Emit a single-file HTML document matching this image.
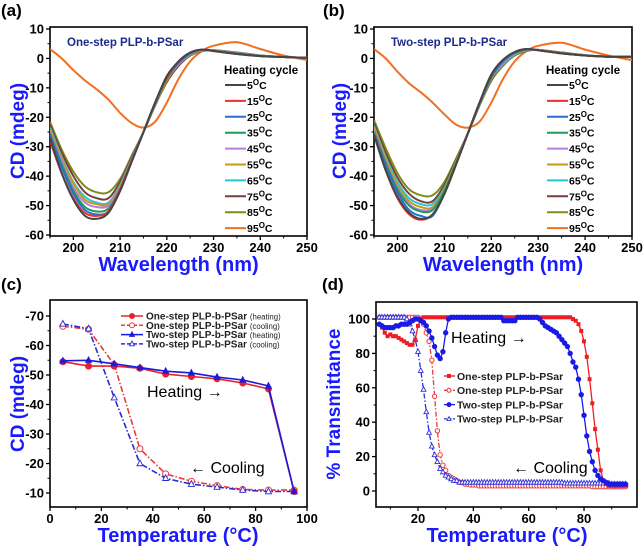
<!DOCTYPE html>
<html><head><meta charset="utf-8">
<style>
html,body{margin:0;padding:0;background:#fff;}
svg{display:block;font-family:"Liberation Sans",sans-serif;}
</style></head>
<body>
<svg id="fig" width="644" height="550" viewBox="0 0 644 550" xmlns="http://www.w3.org/2000/svg"></svg>
<script>
// ---------- Panel (a)/(b) data ----------
const wl = [195,197.5,200,202.5,205,207.5,210,212.5,215,217.5,220,222.5,225,227.5,230,235,240,245,250];
const tempsAB = ["5","15","25","35","45","55","65","75","85","95"];
const colorsAB = ["#454545","#e8322b","#2a6fd0","#1f9c55","#b57ce6","#c99a10","#22c8d8","#7a3e3e","#7d8c1a","#f07020"];
const cdA5  = [-27,-39,-48,-53.5,-54.5,-52.5,-45,-35,-25,-15,-6,-1,2,3,2.5,1.5,0.8,0.5,0.2];
const cdA15 = [-28,-39,-47.5,-52.5,-53.5,-52,-44.5,-34.5,-25,-15,-6.5,-1,2,3,2.6,1.5,0.8,0.5,0.2];
const cdA25 = [-26,-37,-46,-51.5,-53,-52,-45,-35,-25,-15.5,-6.5,-1.5,1.8,3,2.6,1.6,0.8,0.5,0.2];
const cdA35 = [-25.5,-36,-45,-50.5,-52,-51,-44.5,-35,-25,-15.5,-7,-1.5,1.6,2.9,2.7,1.7,0.9,0.5,0.2];
const cdA45 = [-25,-35,-44,-49,-50.5,-50,-44,-34.5,-25,-15.5,-7,-2,1.5,2.8,2.7,1.8,0.9,0.5,0.2];
const cdA55 = [-24,-34,-42.5,-48,-49.5,-49.5,-43.5,-34.5,-25,-16,-7.5,-2,1.3,2.7,2.8,1.8,0.9,0.5,0.2];
const cdA65 = [-23.5,-33.5,-42,-47,-49,-49,-43,-34,-25,-16,-7.5,-2,1.2,2.6,2.8,1.9,1,0.5,0.2];
const cdA75 = [-22.5,-32,-40,-45.5,-47.5,-47.5,-42,-33.5,-25,-16,-8,-2.5,1,2.5,2.8,2,1,0.5,0.2];
const cdA85 = [-21.5,-31,-38.5,-43.5,-45.5,-45.5,-41,-33,-25,-16,-8,-2.5,1,2.5,2.8,2,1,0.5,0.2];
const cdA95 = [3.2,0,-4,-7.5,-10.5,-14,-18.5,-22,-23.5,-21.5,-15,-7,-1,2.5,4.3,5.5,3.2,1,-0.5];
const cdB5  = [-26,-38,-47,-52.5,-54.5,-53,-46,-36,-25.5,-15,-5.5,-0.5,2.2,3.2,2.8,1.7,1,0.6,0.6];
const cdB15 = [-26,-38,-47.5,-53,-54.8,-53,-46,-36,-25.5,-15,-5.5,-0.5,2.2,3.2,2.8,1.7,1,0.6,0.6];
const cdB25 = [-25.5,-36.5,-45.5,-51.5,-53.5,-53.5,-46,-36,-25.5,-15.5,-6,-1,2,3.1,2.8,1.7,1,0.6,0.6];
const cdB35 = [-25,-35.5,-44.5,-50,-52,-51.5,-45,-35.5,-25.5,-15.5,-6.5,-1,1.8,3,2.8,1.8,1,0.6,0.6];
const cdB45 = [-24.5,-35,-44,-49.5,-51.5,-51,-45,-35.5,-25.5,-15.5,-6.5,-1.5,1.6,2.9,2.9,1.8,1,0.6,0.6];
const cdB55 = [-23.5,-34,-43,-48.5,-50.5,-50.5,-44.5,-35,-25.5,-16,-7,-1.5,1.5,2.8,2.9,1.9,1,0.6,0.6];
const cdB65 = [-23,-33.5,-42,-47.5,-49.5,-49.5,-44,-35,-25.5,-16,-7,-2,1.3,2.7,2.9,1.9,1.1,0.6,0.6];
const cdB75 = [-22,-32,-40.5,-46,-48.5,-48.5,-43,-34.5,-25.5,-16,-7.5,-2,1.2,2.6,2.9,2,1.1,0.6,0.6];
const cdB85 = [-21,-30.5,-39,-44.5,-46.5,-46.5,-42,-34,-25.5,-16,-7.5,-2.5,1,2.5,2.9,2,1.1,0.6,0.6];
const cdB95 = [3.2,0,-4.5,-8.5,-11.5,-15,-19,-22.5,-23.5,-21.5,-15,-7,-1,2.5,4.3,5.3,3,1,-0.6];
const seriesA = [cdA5,cdA15,cdA25,cdA35,cdA45,cdA55,cdA65,cdA75,cdA85,cdA95];
const seriesB = [cdB5,cdB15,cdB25,cdB35,cdB45,cdB55,cdB65,cdB75,cdB85,cdB95];

// ---------- Panel (c) data ----------
const tempC = [5,15,25,35,45,55,65,75,85,95];
const oneHeatC = [-54.5,-53,-53,-52.3,-50.3,-49.5,-48.7,-47.3,-45.3,-10.5];
const oneCoolC = [-66.5,-65.5,-53.5,-25,-16.5,-14,-12.5,-11.2,-11,-11];
const twoHeatC = [-54.8,-55,-53.8,-52.5,-51.3,-50.7,-49.3,-48.3,-46.3,-10.5];
const twoCoolC = [-67.3,-65.7,-42.3,-20,-15,-13,-12,-11,-10.5,-10.5];

// ---------- Panel (d) data (T = 6..95 step 1) ----------
const oneHeatD = [97,95,92,90,91,90,90,89,88,87,86,85,85,88,96,100,101,101,101,101,101,101,101,101,101,101,101,101,101,101,101,101,101,101,101,101,101,101,101,101,101,101,101,101,101,101,101,101,101,101,101,101,101,101,101,101,101,101,101,101,101,101,101,101,101,101,101,101,101,101,100,99,97,93,87,78,65,51,36,24,12,6,4,3,3,3,3,3,3,3];
const twoHeatD = [97,96,95,95,95,95,96,96,97,97,97,98,99,100,100,99,98,96,93,89,84,79,77,81,92,100,101,101,101,101,101,101,101,101,101,101,101,101,101,101,101,101,101,101,101,99,99,99,99,99,101,101,101,101,101,101,101,101,100,98,96,95,94,93,92,90,88,86,84,80,75,72,65,56,44,32,23,17,12,9,7,6,5,4,4,4,4,4,4,4];
const oneCoolD = [101,101,101,101,101,101,101,101,101,101,101,101,101,101,101,100,97,92,87,76,55,35,21,15,12,9,8,7,6,5,5,4,4,3.5,3.5,3.5,3,3,3,3,3,3,3,3,3,3,3,3,3,3,3,3,3,3,3,3,3,3,3,3,3,3,3,3,3,3,3,3,3,3,3,3,3,3,3,3,3,2.5,2.5,2.5,2.5,2.5,2.5,2.5,2.5,2.5,2.5,2.5,2.5,2.5];
const twoCoolD = [101,101,101,101,101,101,101,101,101,101,100,97,93,88,81,70,59,46,34,26,21,17,13,11,9,8,7,6,6,5,5,5,5,5,5,5,5,5,5,5,5,5,5,5,5,5,5,5,5,5,5,5,5,5,5,5,5,5,5,5,5,5,5,5,5,5,5,4.5,4.5,4.5,4.5,4.5,4.5,4.5,4.5,4.5,4.5,4.5,4.5,4.5,4.5,4.5,4.5,4.5,4,4,4,4,4,4];
const tempD = oneHeatD.map((_, i) => 6 + i);

const NS = "http://www.w3.org/2000/svg";
const fig = document.getElementById('fig');
function mk(tag, attrs, parent, text) {
  const e = document.createElementNS(NS, tag);
  for (const k in attrs) e.setAttribute(k, attrs[k]);
  if (text !== undefined) e.textContent = text;
  (parent || fig).appendChild(e);
  return e;
}
function smoothPath(pts) {
  let d = "M" + pts[0][0].toFixed(1) + "," + pts[0][1].toFixed(1);
  for (let i = 0; i < pts.length - 1; i++) {
    const p0 = pts[Math.max(0, i - 1)], p1 = pts[i], p2 = pts[i + 1], p3 = pts[Math.min(pts.length - 1, i + 2)];
    const c1x = p1[0] + (p2[0] - p0[0]) / 6, c1y = p1[1] + (p2[1] - p0[1]) / 6;
    const c2x = p2[0] - (p3[0] - p1[0]) / 6, c2y = p2[1] - (p3[1] - p1[1]) / 6;
    d += " C" + c1x.toFixed(1) + "," + c1y.toFixed(1) + " " + c2x.toFixed(1) + "," + c2y.toFixed(1) + " " + p2[0].toFixed(1) + "," + p2[1].toFixed(1);
  }
  return d;
}
function linePath(pts) { return pts.map((p, i) => (i ? "L" : "M") + p[0].toFixed(1) + "," + p[1].toFixed(1)).join(" "); }

function axes(g, L, R, T, B, xs, ys, xticks, yticks, xminor, yminor) {
  const f = mk('rect', {x:L, y:T, width:R-L, height:B-T, fill:'none', stroke:'#000', 'stroke-width':1.6}, g);
  
  
  xticks.forEach(v => {
    const x = xs(v);
    mk('line', {x1:x, x2:x, y1:B, y2:B+4, stroke:'#000', 'stroke-width':1.3}, g);
    const t = mk('text', {x:x, y:B+16, 'text-anchor':'middle', 'font-size':13, 'font-weight':'bold'}, g, String(v));
    
    
  });
  xminor.forEach(v => { const x = xs(v); mk('line', {x1:x, x2:x, y1:B, y2:B+2.5, stroke:'#000', 'stroke-width':1}, g); });
  yticks.forEach(v => {
    const y = ys(v);
    mk('line', {x1:L-4, x2:L, y1:y, y2:y, stroke:'#000', 'stroke-width':1.3}, g);
    const t = mk('text', {x:L-6, y:y+4.5, 'text-anchor':'end', 'font-size':13, 'font-weight':'bold'}, g, String(v));
    
    
  });
  yminor.forEach(v => { const y = ys(v); mk('line', {x1:L-2.5, x2:L, y1:y, y2:y, stroke:'#000', 'stroke-width':1}, g); });
}
function label(txt, x, y, size, name, extra) {
  const t = mk('text', Object.assign({x:x, y:y, 'font-size':size, 'font-weight':'bold'}, extra || {}), fig, txt);
  
  
  return t;
}

// ---------- Panels a & b ----------
function cdPanel(ox, L, R, series, title, name) {
  const g = mk('g', {});
  
  
  const xs = v => L + (v - 195) * (R - L) / 55;
  const ys = v => 29 + (10 - v) * 206 / 70;
  const clipId = name + '-clip';
  const cp = mk('clipPath', {id:clipId}, g);
  mk('rect', {x:L, y:27, width:R-L, height:209}, cp);
  axes(g, L, R, 27, 236, xs, ys, [200,210,220,230,240,250], [10,0,-10,-20,-30,-40,-50,-60],
       [195,205,215,225,235,245], [5,-5,-15,-25,-35,-45,-55]);
  const cg = mk('g', {'clip-path':'url(#' + clipId + ')'}, g);
  for (let s = series.length - 1; s >= 0; s--) {
    const pts = wl.map((w, i) => [xs(w), ys(series[s][i])]);
    const p = mk('path', {d:smoothPath(pts), fill:'none', stroke:colorsAB[s], 'stroke-width':2}, cg);
    
    
  }
  const t = mk('text', {x:L+17, y:46, 'font-size':11.5, 'font-weight':'bold', fill:'#1c2a8a'}, g, title);
  
  
  const lx = ox + 224;
  const h = mk('text', {x:lx, y:74, 'font-size':11.5, 'font-weight':'bold'}, g, 'Heating cycle');
  
  
  tempsAB.forEach((tp, i) => {
    const y = 85 + i * 15.9;
    const le = mk('g', {}, g);
    
    
    mk('line', {x1:lx+1, x2:lx+22, y1:y, y2:y, stroke:colorsAB[i], 'stroke-width':2}, le);
    const tx = mk('text', {x:lx+23, y:y+4, 'font-size':10.5, 'font-weight':'bold'}, le);
    tx.textContent = tp;
    mk('tspan', {dy:-4, 'font-size':8}, tx, 'O');
    mk('tspan', {dy:4}, tx, 'C');
  });
  label('CD (mdeg)', 0, 0, 19, 'y-axis-title', {fill:'#1a1aff', 'text-anchor':'middle', transform:'translate(' + (ox+24) + ',131) rotate(-90)'});
  label('Wavelength (nm)', (L+R)/2, 271, 20, 'x-axis-title', {fill:'#1a1aff', 'text-anchor':'middle'});
}
cdPanel(0, 50, 307, seriesA, 'One-step PLP-b-PSar', 'panel-a');
cdPanel(322, 374, 632, seriesB, 'Two-step PLP-b-PSar', 'panel-b');
label('(a)', 1, 16, 17, 'panel-label-a');
label('(b)', 323, 16, 17, 'panel-label-b');
label('(c)', 1, 290, 17, 'panel-label-c');
label('(d)', 322, 290, 17, 'panel-label-d');

// marker helper
function marker(g, type, x, y, color, r) {
  if (type === 'circle') return mk('circle', {cx:x, cy:y, r:r, fill:color, stroke:color, 'stroke-width':1}, g);
  if (type === 'ocircle') return mk('circle', {cx:x, cy:y, r:r, fill:'#fff', stroke:color, 'stroke-width':1}, g);
  if (type === 'square') return mk('rect', {x:x-r, y:y-r, width:2*r, height:2*r, fill:color}, g);
  const tri = (x) + ',' + (y - r*1.15) + ' ' + (x - r) + ',' + (y + r*0.75) + ' ' + (x + r) + ',' + (y + r*0.75);
  if (type === 'tri') return mk('polygon', {points:tri, fill:color, stroke:color, 'stroke-width':0.8}, g);
  return mk('polygon', {points:tri, fill:'#fff', stroke:color, 'stroke-width':0.9}, g);
}

// ---------- Panel c ----------
(function(){
  const g = mk('g', {});
  
  
  const L = 50, R = 307, T = 300, B = 507;
  const xs = v => L + v * 2.57;
  const ys = v => 316 + (v + 70) * 2.95;
  axes(g, L, R, T, B, xs, ys, [0,20,40,60,80,100], [-70,-60,-50,-40,-30,-20,-10],
       [10,30,50,70,90], [-65,-55,-45,-35,-25,-15]);
  const defs = [
    [oneCoolC, '#e83a3a', '6,2,1.5,2', 'ocircle', 'one-step-cooling'],
    [twoCoolC, '#2a2ad0', '6,2,1.5,2', 'otri', 'two-step-cooling'],
    [oneHeatC, '#e8202a', '', 'circle', 'one-step-heating'],
    [twoHeatC, '#1a1ae0', '', 'tri', 'two-step-heating']
  ];
  defs.forEach(d => {
    const sg = mk('g', {}, g);
    
    
    const pts = tempC.map((t, i) => [xs(t), ys(d[0][i])]);
    mk('path', {d:linePath(pts), fill:'none', stroke:d[1], 'stroke-width':1.6, 'stroke-dasharray':d[2]}, sg);
    pts.forEach(p => { const m = marker(sg, d[3], p[0], p[1], d[1], 3);
      
       });
  });
  const leg = [['One-step PLP-b-PSar', '(heating)', '#e8202a', '', 'circle'],
               ['One-step PLP-b-PSar', '(cooling)', '#e83a3a', '4,2', 'ocircle'],
               ['Two-step PLP-b-PSar', '(heating)', '#1a1ae0', '', 'tri'],
               ['Two-step PLP-b-PSar', '(cooling)', '#2a2ad0', '4,2', 'otri']];
  leg.forEach((l, i) => {
    const y = 316 + i * 9.3;
    const le = mk('g', {}, g);
    
    
    mk('line', {x1:121, x2:143, y1:y, y2:y, stroke:l[2], 'stroke-width':1.5, 'stroke-dasharray':l[3]}, le);
    marker(le, l[4], 132, y, l[2], 2.5);
    const t = mk('text', {x:146, y:y+3.5, 'font-size':10, 'font-weight':'bold', fill:'#222'}, le, l[0] + ' ');
    mk('tspan', {'font-size':7.8, 'font-weight':'normal'}, t, l[1]);
  });
  const h = mk('text', {x:147, y:397, 'font-size':16}, g, 'Heating →');
   
  const c = mk('text', {x:190, y:473, 'font-size':16}, g, '← Cooling');
   
  label('CD (mdeg)', 0, 0, 19, 'y-axis-title', {fill:'#1a1aff', 'text-anchor':'middle', transform:'translate(24,404) rotate(-90)'});
  label('Temperature (°C)', 178, 542, 20, 'x-axis-title', {fill:'#1a1aff', 'text-anchor':'middle'});
})();

// ---------- Panel d ----------
(function(){
  const g = mk('g', {});
  
  
  const L = 376, R = 637, T = 302, B = 507;
  const xs = v => 418 + (v - 20) * 2.767;
  const ys = v => 491 - v * 1.72;
  axes(g, L, R, T, B, xs, ys, [20,40,60,80], [0,20,40,60,80,100], [10,30,50,70,90], [10,30,50,70,90]);
  const defs = [
    [oneCoolD, '#e83a3a', '5,2,1.5,2', 'ocircle', 'one-step-cooling', 2.2],
    [twoCoolD, '#3030d8', '5,2,1.5,2', 'otri', 'two-step-cooling', 2.4],
    [oneHeatD, '#ee1c24', '', 'square', 'one-step-heating', 2],
    [twoHeatD, '#1a1ae8', '', 'circle', 'two-step-heating', 2.2]
  ];
  defs.forEach(d => {
    const sg = mk('g', {}, g);
    
    
    const pts = tempD.map((t, i) => [xs(t), ys(d[0][i])]);
    mk('path', {d:linePath(pts), fill:'none', stroke:d[1], 'stroke-width':1.3, 'stroke-dasharray':d[2]}, sg);
    pts.forEach(p => { const m = marker(sg, d[3], p[0], p[1], d[1], d[5]);
      
       });
  });
  const leg = [['#ee1c24', '', 'square'], ['#e83a3a', '3,1.5', 'ocircle'], ['#1a1ae8', '', 'circle'], ['#3030d8', '3,1.5', 'otri']];
  const names = ['One-step PLP-b-PSar','One-step PLP-b-PSar','Two-step PLP-b-PSar','Two-step PLP-b-PSar'];
  leg.forEach((l, i) => {
    const y = 376 + i * 14.3;
    const le = mk('g', {}, g);
    
    
    mk('line', {x1:444, x2:455, y1:y, y2:y, stroke:l[0], 'stroke-width':1.3, 'stroke-dasharray':l[1]}, le);
    marker(le, l[2], 449, y, l[0], 2);
    mk('text', {x:457, y:y+3.8, 'font-size':10.5, 'font-weight':'bold', fill:'#222'}, le, names[i]);
  });
  const h = mk('text', {x:451, y:343, 'font-size':16}, g, 'Heating →');
   
  const c = mk('text', {x:513, y:473, 'font-size':16}, g, '← Cooling');
   
  label('% Transmittance', 0, 0, 19, 'y-axis-title', {fill:'#1a1aff', 'text-anchor':'middle', transform:'translate(340,404) rotate(-90)'});
  label('Temperature (°C)', 507, 542, 20, 'x-axis-title', {fill:'#1a1aff', 'text-anchor':'middle'});
})();
</script>
</body></html>
